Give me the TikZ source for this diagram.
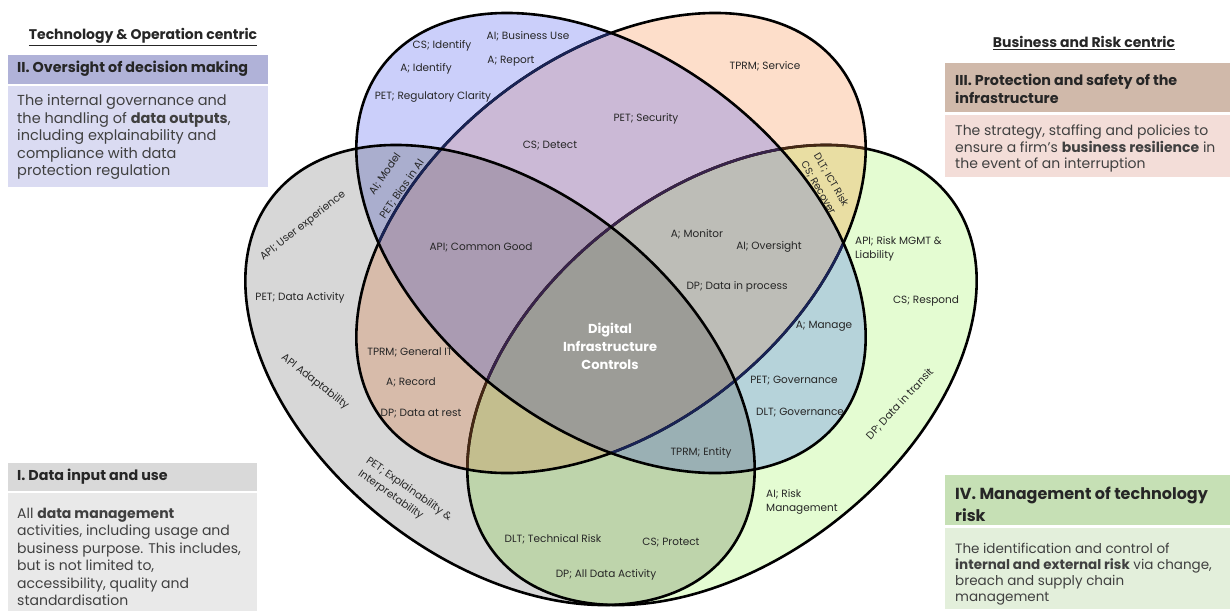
\documentclass[tikz,border=0pt]{standalone}
\usepackage{fontspec}
\setmainfont{Poppins}
\definecolor{cB}{RGB}{203,207,250}
\definecolor{cP}{RGB}{253,222,202}
\definecolor{cG}{RGB}{215,215,215}
\definecolor{cGr}{RGB}{228,252,210}
\definecolor{cBP}{RGB}{203,185,214}
\definecolor{cBG}{RGB}{170,174,206}
\definecolor{cBGr}{RGB}{182,211,218}
\definecolor{cPG}{RGB}{215,187,170}
\definecolor{cPGr}{RGB}{233,222,163}
\definecolor{cGGr}{RGB}{190,212,171}
\definecolor{cBPG}{RGB}{170,155,178}
\definecolor{cBPGr}{RGB}{189,189,183}
\definecolor{cBGGr}{RGB}{154,176,180}
\definecolor{cPGGr}{RGB}{195,190,142}
\definecolor{cAll}{RGB}{156,156,151}
\definecolor{lnBr}{RGB}{70,40,20}
\definecolor{lnPu}{RGB}{55,35,75}
\definecolor{lnNv}{RGB}{25,35,85}
\definecolor{hII}{RGB}{176,178,216}
\definecolor{bII}{RGB}{218,219,242}
\definecolor{hIII}{RGB}{208,185,170}
\definecolor{bIII}{RGB}{243,221,216}
\definecolor{hI}{RGB}{217,217,217}
\definecolor{bI}{RGB}{233,233,233}
\definecolor{hIV}{RGB}{198,224,181}
\definecolor{bIV}{RGB}{227,239,219}
\definecolor{txt}{RGB}{38,38,38}
\definecolor{btxt}{RGB}{64,64,64}
\newcommand\EllB[1]{\path[#1,rotate around={-38:(611,243)}] (611,243) ellipse [x radius=289pt, y radius=185pt];}
\newcommand\EllP[1]{\path[#1,rotate around={38:(611,243)}] (611,243) ellipse [x radius=289pt, y radius=185pt];}
\newcommand\EllG[1]{\path[#1,rotate around={-38:(500,375)}] (500,375) ellipse [x radius=289pt, y radius=185pt];}
\newcommand\EllR[1]{\path[#1,rotate around={38:(722,375)}] (722,375) ellipse [x radius=289pt, y radius=185pt];}
\newcommand\RegFill[2]{\begin{scope}#1\fill[#2] (0,0) rectangle (1231,611);\end{scope}}
\begin{document}
\begin{tikzpicture}[x=1pt,y=-1pt,
  lbl/.style={font=\fontsize{10.5}{12}\selectfont, text=txt, inner sep=0pt},
  ol/.style={line width=2.6pt},
  hd/.style={font=\fontsize{14.3}{18}\selectfont\bfseries, text=txt, inner sep=0pt, align=left},
  bd/.style={font=\fontsize{14.5}{17.5}\selectfont, text=btxt, inner sep=0pt, align=left},
  sec/.style={font=\fontsize{14}{16}\selectfont\bfseries, text=txt, inner sep=0pt}]
\useasboundingbox (0,0) rectangle (1231,611);
\fill[white] (0,0) rectangle (1231,611);
% single fills
\EllB{fill=cB}\EllP{fill=cP}\EllG{fill=cG}\EllR{fill=cGr}
% pairs
\RegFill{\EllB{clip}\EllP{clip}}{cBP}
\RegFill{\EllB{clip}\EllG{clip}}{cBG}
\RegFill{\EllB{clip}\EllR{clip}}{cBGr}
\RegFill{\EllP{clip}\EllG{clip}}{cPG}
\RegFill{\EllP{clip}\EllR{clip}}{cPGr}
\RegFill{\EllG{clip}\EllR{clip}}{cGGr}
% triples
\RegFill{\EllB{clip}\EllP{clip}\EllG{clip}}{cBPG}
\RegFill{\EllB{clip}\EllP{clip}\EllR{clip}}{cBPGr}
\RegFill{\EllB{clip}\EllG{clip}\EllR{clip}}{cBGGr}
\RegFill{\EllP{clip}\EllG{clip}\EllR{clip}}{cPGGr}
% all four
\RegFill{\EllB{clip}\EllP{clip}\EllG{clip}\EllR{clip}}{cAll}
% outlines
\EllR{draw=black,ol}
\begin{scope}\EllP{clip}\EllR{draw=lnBr,ol}\end{scope}
\begin{scope}\EllB{clip}\EllP{clip}\EllR{draw=lnPu,ol}\end{scope}
\EllP{draw=black,ol}
\begin{scope}\EllB{clip}\EllP{draw=lnNv,ol}\end{scope}
\EllB{draw=black,ol}
\EllG{draw=black,ol}
% venn labels
\node[lbl] (t1) at (442,46) {CS; Identify};
\node[lbl] (t2) at (528,36) {AI; Business Use};
\node[lbl] (t3) at (426,69) {A; Identify};
\node[lbl] (t4) at (511,61) {A; Report};
\node[lbl] (t5) at (433,97) {PET; Regulatory Clarity};
\node[lbl] (t6) at (550,146) {CS; Detect};
\node[lbl] (t7) at (646,119) {PET; Security};
\node[lbl] (t8) at (765,66) {TPRM; Service};
\node[lbl,rotate=55] (t9) at (385,174) {AI; Model};
\node[lbl,rotate=55] (t10) at (402,189) {PET; Bias in AI};
\node[lbl,rotate=-60,font=\fontsize{10}{12}\selectfont] (t11) at (831,180) {DLT; ICT Risk};
\node[lbl,rotate=-60,font=\fontsize{10}{12}\selectfont] (t12) at (818,188) {CS; Recover};
\node[lbl,rotate=38] (t13) at (303,226) {API; User experience};
\node[lbl] (t14) at (300,298) {PET; Data Activity};
\node[lbl,rotate=-38] (t15) at (315,382) {API Adaptability};
\node[lbl,rotate=-35,anchor=west] (t16) at (367,460) {PET; Explainability \&};
\node[lbl,rotate=-35,anchor=west] (t17) at (359,473) {Interpretability};
\node[lbl] (t18) at (410,352) {TPRM; General IT};
\node[lbl] (t19) at (411,382) {A; Record};
\node[lbl] (t20) at (421,414) {DP; Data at rest};
\node[lbl] (t21) at (481,247) {API; Common Good};
\node[lbl] (t22) at (697,234) {A; Monitor};
\node[lbl] (t23) at (769,247) {AI; Oversight};
\node[lbl] (t24) at (737,287) {DP; Data in process};
\node[lbl] (t25) at (824,326) {A; Manage};
\node[lbl] (t26) at (794,381) {PET; Governance};
\node[lbl] (t27) at (800,413) {DLT; Governance};
\node[lbl] (t28) at (701,453) {TPRM; Entity};
\node[lbl] (t29) at (553,539) {DLT; Technical Risk};
\node[lbl] (t30) at (671,543) {CS; Protect};
\node[lbl] (t31) at (606,575) {DP; All Data Activity};
\node[lbl,anchor=west] (t32) at (855,241) {API; Risk MGMT \&};
\node[lbl,anchor=west] (t33) at (855,256) {Liability};
\node[lbl] (t34) at (926,301) {CS; Respond};
\node[lbl,rotate=47] (t35) at (900,404) {DP; Data in transit};
\node[lbl,anchor=west] (t36) at (766,494) {AI; Risk};
\node[lbl,anchor=west] (t37) at (766,509) {Management};
\node[font=\fontsize{13}{18}\selectfont\bfseries, text=white, align=center, inner sep=0pt] (ctr) at (610,346) {Digital\\Infrastructure\\Controls};
% section titles
\node[sec] (s1) at (143,37) {\underline{Technology \& Operation centric}};
\node[sec] (s2) at (1084,43) {\underline{Business and Risk centric}};
% panel II
\fill[hII] (8,55) rectangle (268,84);
\fill[bII] (8,86) rectangle (268,187);
\node[hd,anchor=west] (hdII) at (17,69) {II. Oversight of decision making};
\node[bd,anchor=north west] (bdII) at (17,94.3) {The internal governance and\\the handling of \textbf{data outputs},\\including explainability and\\compliance with data\\protection regulation};
% panel III
\fill[hIII] (945,63) rectangle (1230,112);
\fill[bIII] (945,115) rectangle (1230,177);
\node[hd,anchor=north west] (hdIII) at (955,74.3) {III. Protection and safety of the\\infrastructure};
\node[bd,anchor=north west,font=\fontsize{14}{16.7}\selectfont] (bdIII) at (955,124.5) {The strategy, staffing and policies to\\ensure a firm's \textbf{business resilience} in\\the event of an interruption};
% panel I
\fill[hI] (8,463) rectangle (257,491);
\fill[bI] (8,493) rectangle (257,611);
\node[hd,anchor=west] (hdI) at (17,477) {I. Data input and use};
\node[bd,anchor=north west,font=\fontsize{14}{17.5}\selectfont] (bdI) at (17,507.5) {All \textbf{data management}\\activities, including usage and\\business purpose. This includes,\\but is not limited to,\\accessibility, quality and\\standardisation};
% panel IV
\fill[hIV] (945,475) rectangle (1230,525);
\fill[bIV] (945,528) rectangle (1230,609);
\node[hd,anchor=north west,font=\fontsize{16}{22}\selectfont\bfseries] (hdIV) at (955,486.8) {IV. Management of technology\\risk};
\node[bd,anchor=north west,font=\fontsize{13.5}{16}\selectfont] (bdIV) at (955,542.7) {The identification and control of\\\textbf{internal and external risk} via change,\\breach and supply chain\\management};
\end{tikzpicture}
\end{document}
